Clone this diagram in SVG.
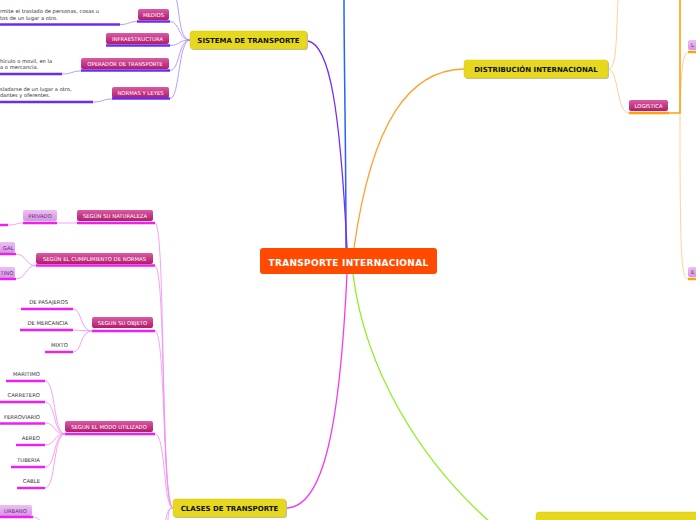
<svg xmlns="http://www.w3.org/2000/svg" width="696" height="520" viewBox="0 0 696 520">
<defs>
<linearGradient id="pink" x1="0" y1="0" x2="0" y2="1"><stop offset="0" stop-color="#DA5AA3"/><stop offset="1" stop-color="#B21C6C"/></linearGradient>
<linearGradient id="lav" x1="0" y1="0" x2="0" y2="1"><stop offset="0" stop-color="#EBC0F2"/><stop offset="1" stop-color="#D595E3"/></linearGradient>
<style>
.main{fill:#E6D81E;stroke:#D8C910;stroke-width:0.5}
.shadow{fill:#BDBDBD}
.mt{font-family:"DejaVu Sans",Verdana,sans-serif;font-weight:bold;font-size:7px;fill:#111;text-anchor:middle}
.ct{font-family:"DejaVu Sans",Verdana,sans-serif;font-weight:bold;font-size:9px;fill:#fff;text-anchor:middle;letter-spacing:0.3px}
.pk{fill:url(#pink)}
.lv{fill:url(#lav)}
.pt{font-family:"DejaVu Sans",Verdana,sans-serif;font-size:5.3px;fill:#fff;text-anchor:middle}
.lt{font-family:"DejaVu Sans",Verdana,sans-serif;font-size:5.3px;fill:#6B2A7E;text-anchor:middle}
.leaf{font-family:"DejaVu Sans",Verdana,sans-serif;font-size:5.3px;fill:#333;text-anchor:end}
.desc{font-family:"DejaVu Sans",Verdana,sans-serif;font-size:5.2px;fill:#333}
.ulp{stroke:#6A2CF0;stroke-width:2.4;fill:none}
.ulm{stroke:#F01EF0;stroke-width:2.4;fill:none}
.ulo{stroke:#FFA010;stroke-width:2.4;fill:none}
.cp{stroke:#A883F7;stroke-width:0.8;fill:none}
.cm{stroke:#F38AF3;stroke-width:0.8;fill:none}
.co{stroke:#FFC47A;stroke-width:0.8;fill:none}
</style>
</defs>
<rect width="696" height="520" fill="#fff"/>

<g id="connectors">
<path d="M346,248 C346,150 344,60 344,0" stroke="#2563FF" stroke-width="1.5" fill="none"/>
<path d="M347,248 C340,110 330,45 308,41" stroke="#7A2BF5" stroke-width="1.3" fill="none"/>
<path d="M354,248 C372,120 410,70 464,69" stroke="#FFA030" stroke-width="1.3" fill="none"/>
<path d="M347,274 C340,420 325,508 286,508" stroke="#F03CF0" stroke-width="1.3" fill="none"/>
<path d="M353,274 C365,370 420,460 490,522" stroke="#8CF020" stroke-width="1.3" fill="none"/>

<path class="cp" d="M190,40 C178,40 180,5 175,-5"/>
<path class="cp" d="M190,40 C178,40 180,21.5 170,21.5"/>
<path class="cp" d="M190,40 C178,40 180,45.5 170,45.5"/>
<path class="cp" d="M190,40 C178,40 180,70.5 170,70.5"/>
<path class="cp" d="M190,40 C178,40 180,98.5 170,98.5"/>
<path class="cp" d="M137,21.5 C128,21.5 130,24.5 120,24.5"/>
<path class="cp" d="M81,71 C72,71 72,74 62,74"/>
<path class="cp" d="M112,99 C103,99 103,102 93,102"/>

<path class="cm" d="M173,508 C160,508 166,223 155,223"/>
<path class="cm" d="M173,508 C161,508 166,266 155,266"/>
<path class="cm" d="M173,508 C162,508 166,331 155,331"/>
<path class="cm" d="M173,508 C163,508 166,434 155,434"/>
<path class="cm" d="M173,508 C165,508 168,520 162,530"/>
<path class="cm" d="M173,508 C166,508 170,518 166,530"/>
<path class="cm" d="M77,223 L57,223"/>
<path class="cm" d="M23,223 C16,223 17,225 8,225"/>
<path class="cm" d="M36,265.5 C25,265.5 27,254 15,254"/>
<path class="cm" d="M36,265.5 C25,265.5 27,279 15,279"/>
<path class="cm" d="M92,331 C80,331 82,309 73,309"/>
<path class="cm" d="M92,331 L73,330"/>
<path class="cm" d="M92,331 C80,331 82,352 73,352"/>
<path class="cm" d="M65,434 C53,434 56,381 45,381"/>
<path class="cm" d="M65,434 C53,434 56,402 45,402"/>
<path class="cm" d="M65,434 C53,434 56,423 45,423"/>
<path class="cm" d="M65,434 C53,434 56,445 45,445"/>
<path class="cm" d="M65,434 C53,434 56,467 45,467"/>
<path class="cm" d="M65,434 C53,434 56,488 45,488"/>
<path class="cm" d="M33,517 C38,517 40,521 44,524"/>

<path class="co" d="M608,69 C617,69 616,40 618,0"/>
<path class="co" d="M608,69 C619,69 616,113 629,113"/>
<path class="co" d="M680,113 C681,70 683,52 688,52"/>
<path class="co" d="M680,113 C680,250 681,279 688,279"/>
<path d="M680,0 L680,113 L668,113" stroke="#FFA010" stroke-width="1.6" fill="none"/>

<line class="ulp" x1="0" y1="24.5" x2="120" y2="24.5"/>
<line class="ulp" x1="0" y1="74" x2="62" y2="74"/>
<line class="ulp" x1="0" y1="102" x2="93" y2="102"/>
<line class="ulm" x1="-2" y1="225" x2="8" y2="225"/>
<line class="ulm" x1="21" y1="309" x2="73" y2="309"/>
<line class="ulm" x1="20" y1="330" x2="73" y2="330"/>
<line class="ulm" x1="45" y1="352" x2="73" y2="352"/>
<line class="ulm" x1="6" y1="381" x2="45" y2="381"/>
<line class="ulm" x1="0" y1="402" x2="45" y2="402"/>
<line class="ulm" x1="0" y1="423.5" x2="45" y2="423.5"/>
<line class="ulm" x1="16" y1="445" x2="45" y2="445"/>
<line class="ulm" x1="11" y1="467" x2="45" y2="467"/>
<line class="ulm" x1="17" y1="488" x2="45" y2="488"/>
</g>

<g id="center">
<rect x="260" y="248" width="177" height="26" rx="3" fill="#FF4A00"/>
<text class="ct" x="348.5" y="265.5">TRANSPORTE INTERNACIONAL</text>
</g>

<g id="sistema">
<rect class="shadow" x="191" y="32" width="117" height="18" rx="3"/>
<rect class="main" x="190" y="31" width="117" height="18" rx="3"/>
<text class="mt" x="248.5" y="43">SISTEMA DE TRANSPORTE</text>
</g>

<g id="distribucion">
<rect class="shadow" x="465" y="61" width="144" height="18" rx="3"/>
<rect class="main" x="464" y="60" width="144" height="18" rx="3"/>
<text class="mt" x="536" y="72">DISTRIBUCIÓN INTERNACIONAL</text>
</g>

<g id="clases">
<rect class="shadow" x="174" y="500" width="113" height="18" rx="3"/>
<rect class="main" x="173" y="499" width="113" height="18" rx="3"/>
<text class="mt" x="229.5" y="511">CLASES DE TRANSPORTE</text>
</g>

<g id="cuestiones">
<rect class="main" x="536" y="512" width="170" height="20" rx="3"/>
</g>

<g id="medios">
<rect class="pk" x="138" y="9" width="31" height="11" rx="2"/>
<text class="pt" x="153.5" y="16.8">MEDIOS</text>
<line class="ulp" x1="137" y1="21.5" x2="170" y2="21.5"/>
<text class="desc" x="0" y="13.2">rmite el traslado de personas, cosas u</text>
<text class="desc" x="0" y="19.8">tos de un lugar a otro.</text>
</g>
<g id="infraestructura">
<rect class="pk" x="106" y="33" width="63" height="11" rx="2"/>
<text class="pt" x="137.5" y="40.8">INFRAESTRUCTURA</text>
<line class="ulp" x1="106" y1="45.5" x2="170" y2="45.5"/>
</g>
<g id="operador">
<rect class="pk" x="81" y="58" width="88" height="11" rx="2"/>
<text class="pt" x="125" y="65.8">OPERADOR DE TRANSPORTE</text>
<line class="ulp" x1="81" y1="70.5" x2="170" y2="70.5"/>
<text class="desc" x="0" y="63.3">hículo o movil, en la</text>
<text class="desc" x="0" y="69.3">a o mercancia.</text>
</g>
<g id="normas">
<rect class="pk" x="112" y="87" width="57" height="11" rx="2"/>
<text class="pt" x="140.5" y="94.8">NORMAS Y LEYES</text>
<line class="ulp" x1="112" y1="98.5" x2="170" y2="98.5"/>
<text class="desc" x="0" y="91">sladarse de un lugar a otro,</text>
<text class="desc" x="0" y="97">dantes y oferentes.</text>
</g>

<g id="naturaleza">
<rect class="pk" x="77" y="210" width="76" height="11" rx="2"/>
<text class="pt" x="115" y="217.8">SEGÚN SU NATURALEZA</text>
<line class="ulm" x1="77" y1="223" x2="155" y2="223"/>
</g>
<g id="privado">
<rect class="lv" x="23" y="210" width="34" height="11" rx="2"/>
<text class="lt" x="40" y="217.8">PRIVADO</text>
<line class="ulm" x1="23" y1="223" x2="57" y2="223"/>
</g>
<g id="cumplimiento">
<rect class="pk" x="36" y="253" width="117" height="11" rx="2"/>
<text class="pt" x="94.5" y="260.8">SEGÚN EL CUMPLIMIENTO DE NORMAS</text>
<line class="ulm" x1="36" y1="265.5" x2="155" y2="265.5"/>
</g>
<g id="legal">
<rect class="lv" x="-10" y="242" width="25" height="11" rx="2"/>
<text class="lt" x="13.5" y="249.8" style="text-anchor:end">GAL</text>
<line class="ulm" x1="-2" y1="254" x2="16" y2="254"/>
</g>
<g id="clandestino">
<rect class="lv" x="-10" y="267" width="25" height="11" rx="2"/>
<text class="lt" x="13.5" y="274.8" style="text-anchor:end">TINO</text>
<line class="ulm" x1="-2" y1="279" x2="16" y2="279"/>
</g>
<g id="objeto">
<rect class="pk" x="92" y="317" width="61" height="11" rx="2"/>
<text class="pt" x="122.5" y="324.8">SEGUN SU OBJETO</text>
<line class="ulm" x1="92" y1="331" x2="155" y2="331"/>
</g>
<g id="pasajeros"><text class="leaf" x="68" y="304">DE PASAJEROS</text></g>
<g id="mercancia"><text class="leaf" x="68" y="325">DE MERCANCIA</text></g>
<g id="mixto"><text class="leaf" x="68" y="347">MIXTO</text></g>
<g id="modo">
<rect class="pk" x="65" y="421" width="88" height="11" rx="2"/>
<text class="pt" x="109" y="428.8">SEGUN EL MODO UTILIZADO</text>
<line class="ulm" x1="65" y1="434" x2="155" y2="434"/>
</g>
<g id="maritimo"><text class="leaf" x="40" y="376">MARITIMO</text></g>
<g id="carretero"><text class="leaf" x="40" y="397">CARRETERO</text></g>
<g id="ferroviario"><text class="leaf" x="40" y="419">FERROVIARIO</text></g>
<g id="aereo"><text class="leaf" x="40" y="440">AEREO</text></g>
<g id="tuberia"><text class="leaf" x="40" y="462">TUBERIA</text></g>
<g id="cable"><text class="leaf" x="40" y="483">CABLE</text></g>
<g id="urbano">
<rect class="lv" x="-3" y="505" width="35" height="11" rx="2"/>
<text class="lt" x="15.5" y="512.5">URBANO</text>
<line class="ulm" x1="-2" y1="517" x2="33" y2="517"/>
</g>

<g id="logistica">
<rect class="pk" x="629" y="100" width="39" height="11" rx="2"/>
<text class="pt" x="648.5" y="107.8">LOGISTICA</text>
<line class="ulo" x1="629" y1="113" x2="669" y2="113"/>
</g>
<g id="nodeL">
<rect class="lv" x="688" y="40" width="12" height="10" rx="2"/>
<text class="lt" x="691" y="47" style="text-anchor:start">L</text>
<line class="ulo" x1="688" y1="52" x2="697" y2="52"/>
</g>
<g id="nodeE">
<rect class="lv" x="688" y="267" width="12" height="10" rx="2"/>
<text class="lt" x="691" y="274" style="text-anchor:start">E</text>
<line class="ulo" x1="688" y1="279" x2="697" y2="279"/>
</g>
</svg>
